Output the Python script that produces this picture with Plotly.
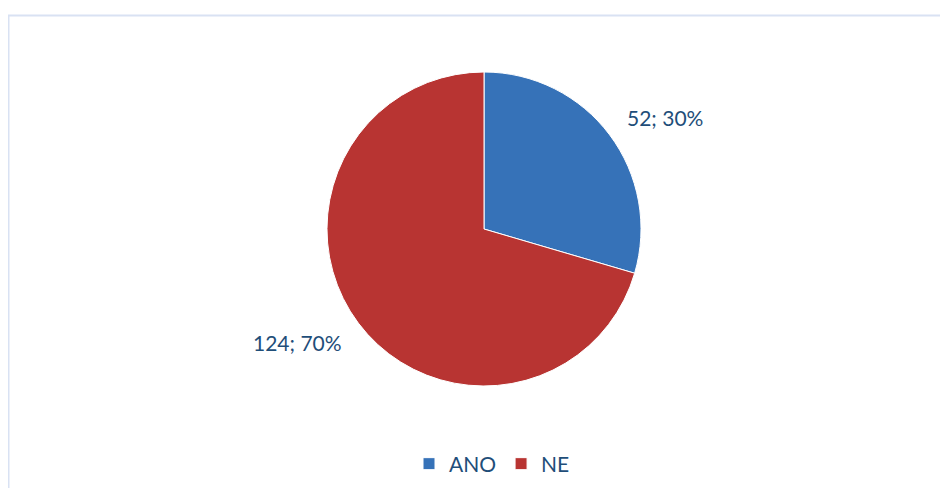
import plotly.graph_objects as go

# data
categories = ["ANO", "NE"]
counts = [52, 124]
colors = ["#3672b8", "#b83432"]

total = sum(counts)
label_texts = [f"{c}; {round(c / total * 100)}%" for c in counts]

OFF = 8  # page body margin pushes the figure 8px right/down
W, H = 948 - 2 * OFF, 496 - 2 * OFF  # keep page inside the window (no scrollbars)


def px(x):
    return (x - OFF) / W


def py(y):
    return 1 - (y - OFF) / H


fig = go.Figure(go.Pie(
    labels=categories,
    values=counts,
    sort=False,
    direction="clockwise",
    rotation=0,
    textinfo="none",
    hoverinfo="label+value+percent",
    marker=dict(colors=colors, line=dict(color="white", width=1)),
    domain=dict(x=[px(327), px(641)], y=[py(386), py(72)]),
))

# data labels outside the slices
label_pos = [(665, 118), (297, 342)]
for txt, (lx, ly) in zip(label_texts, label_pos):
    fig.add_annotation(x=px(lx), y=py(ly), xref="paper", yref="paper",
                       xanchor="center", yanchor="middle",
                       text=txt, showarrow=False,
                       font=dict(family="Lato", size=21, color="#1f4e79"))

# chart area border (only left and top edges are inside the picture)
bx, by = 0.5 / W, 1 - 7.5 / H
fig.add_shape(type="path", xref="paper", yref="paper",
              path=f"M {bx},0 L {bx},{by} L 1,{by}",
              line=dict(color="#d9e2f3", width=2))

fig.update_layout(
    width=W, height=H,
    margin=dict(l=0, r=0, t=0, b=0),
    paper_bgcolor="white",
    font=dict(family="Lato", size=21, color="#1f4e79"),
    showlegend=True,
    legend=dict(orientation="h", x=px(492), xanchor="center",
                y=py(464), yanchor="middle",
                font=dict(family="Lato", size=21, color="#1f4e79"),
                tracegroupgap=0),
)

fig.write_html("out.html")
